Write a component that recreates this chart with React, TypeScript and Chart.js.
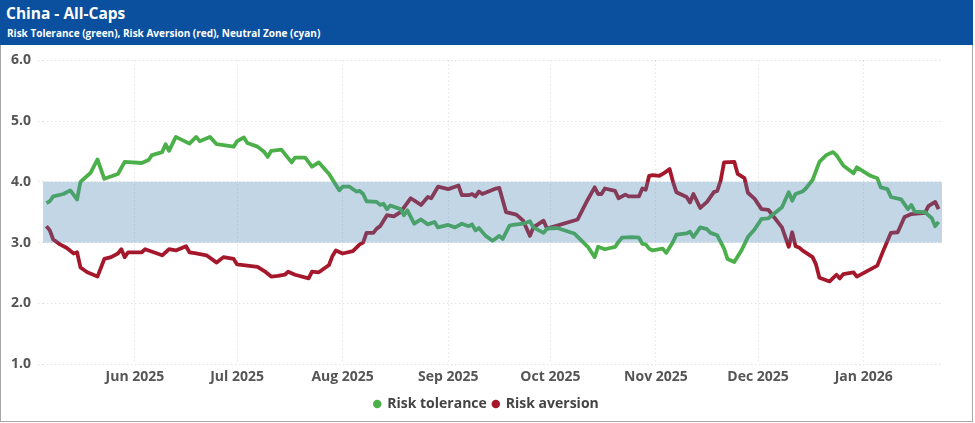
import React, { useEffect, useRef } from "react";
import { Chart, registerables } from "chart.js";

Chart.register(...registerables);

const toleranceDates = [
  "2025-05-06", "2025-05-07", "2025-05-08", "2025-05-11", "2025-05-13", "2025-05-15", "2025-05-16", "2025-05-19",
  "2025-05-21", "2025-05-23", "2025-05-27", "2025-05-29", "2025-06-03", "2025-06-05", "2025-06-06", "2025-06-09",
  "2025-06-10", "2025-06-11", "2025-06-13", "2025-06-17", "2025-06-19", "2025-06-20", "2025-06-23", "2025-06-25",
  "2025-06-30", "2025-07-01", "2025-07-03", "2025-07-04", "2025-07-07", "2025-07-09", "2025-07-10", "2025-07-11",
  "2025-07-14", "2025-07-17", "2025-07-18", "2025-07-21", "2025-07-23", "2025-07-25", "2025-07-28", "2025-07-31",
  "2025-08-01", "2025-08-03", "2025-08-05", "2025-08-06", "2025-08-07", "2025-08-08", "2025-08-11", "2025-08-12",
  "2025-08-13", "2025-08-14", "2025-08-15", "2025-08-18", "2025-08-19", "2025-08-20", "2025-08-22", "2025-08-24",
  "2025-08-26", "2025-08-28", "2025-08-29", "2025-09-01", "2025-09-03", "2025-09-05", "2025-09-07", "2025-09-08",
  "2025-09-09", "2025-09-10", "2025-09-12", "2025-09-14", "2025-09-16", "2025-09-17", "2025-09-19", "2025-09-20",
  "2025-09-23", "2025-09-25", "2025-09-26", "2025-09-29", "2025-09-30", "2025-10-03", "2025-10-08", "2025-10-12",
  "2025-10-14", "2025-10-15", "2025-10-17", "2025-10-20", "2025-10-21", "2025-10-22", "2025-10-25", "2025-10-27",
  "2025-10-28", "2025-10-29", "2025-10-30", "2025-10-31", "2025-11-03", "2025-11-04", "2025-11-06", "2025-11-07",
  "2025-11-10", "2025-11-11", "2025-11-12", "2025-11-14", "2025-11-16", "2025-11-17", "2025-11-19", "2025-11-21",
  "2025-11-22", "2025-11-24", "2025-11-26", "2025-11-28", "2025-11-30", "2025-12-02", "2025-12-04", "2025-12-06",
  "2025-12-08", "2025-12-10", "2025-12-11", "2025-12-12", "2025-12-14", "2025-12-15", "2025-12-17", "2025-12-19",
  "2025-12-21", "2025-12-23", "2025-12-24", "2025-12-26", "2025-12-29", "2025-12-30", "2026-01-03", "2026-01-05",
  "2026-01-06", "2026-01-08", "2026-01-09", "2026-01-12", "2026-01-14", "2026-01-15", "2026-01-16", "2026-01-19",
  "2026-01-21", "2026-01-22", "2026-01-23",
];
const toleranceValues = [
  3.65, 3.68, 3.76, 3.80, 3.86, 3.71, 4.00, 4.15,
  4.37, 4.05, 4.13, 4.33, 4.31, 4.36, 4.44, 4.49,
  4.62, 4.51, 4.74, 4.63, 4.74, 4.67, 4.74, 4.62,
  4.58, 4.67, 4.73, 4.64, 4.58, 4.49, 4.41, 4.51,
  4.53, 4.32, 4.40, 4.40, 4.25, 4.32, 4.13, 3.86,
  3.92, 3.92, 3.84, 3.85, 3.80, 3.68, 3.67, 3.62,
  3.64, 3.55, 3.61, 3.55, 3.45, 3.53, 3.31, 3.38,
  3.30, 3.34, 3.25, 3.29, 3.25, 3.31, 3.27, 3.30,
  3.20, 3.24, 3.11, 3.03, 3.11, 3.06, 3.28, 3.29,
  3.31, 3.35, 3.25, 3.16, 3.23, 3.24, 3.15, 2.93,
  2.76, 2.93, 2.89, 2.93, 3.01, 3.08, 3.09, 3.08,
  2.98, 2.97, 2.90, 2.87, 2.90, 2.83, 3.01, 3.13,
  3.15, 3.18, 3.09, 3.25, 3.22, 3.16, 3.12, 2.90,
  2.73, 2.68, 2.86, 3.09, 3.22, 3.39, 3.40, 3.49,
  3.58, 3.83, 3.69, 3.80, 3.84, 3.89, 4.03, 4.33,
  4.44, 4.49, 4.44, 4.27, 4.14, 4.24, 4.10, 4.06,
  3.91, 3.88, 3.75, 3.71, 3.55, 3.62, 3.51, 3.50,
  3.40, 3.27, 3.34,
];

const aversionDates = [
  "2025-05-06", "2025-05-07", "2025-05-08", "2025-05-10", "2025-05-12", "2025-05-14", "2025-05-15", "2025-05-16",
  "2025-05-18", "2025-05-21", "2025-05-23", "2025-05-25", "2025-05-27", "2025-05-28", "2025-05-29", "2025-05-30",
  "2025-06-03", "2025-06-04", "2025-06-09", "2025-06-11", "2025-06-13", "2025-06-16", "2025-06-17", "2025-06-19",
  "2025-06-22", "2025-06-25", "2025-06-27", "2025-06-30", "2025-07-01", "2025-07-04", "2025-07-07", "2025-07-09",
  "2025-07-11", "2025-07-13", "2025-07-15", "2025-07-16", "2025-07-18", "2025-07-22", "2025-07-23", "2025-07-25",
  "2025-07-28", "2025-07-29", "2025-07-30", "2025-08-01", "2025-08-04", "2025-08-06", "2025-08-07", "2025-08-08",
  "2025-08-10", "2025-08-11", "2025-08-12", "2025-08-14", "2025-08-16", "2025-08-18", "2025-08-21", "2025-08-24",
  "2025-08-26", "2025-08-27", "2025-08-29", "2025-09-01", "2025-09-03", "2025-09-04", "2025-09-05", "2025-09-07",
  "2025-09-08", "2025-09-09", "2025-09-10", "2025-09-11", "2025-09-15", "2025-09-16", "2025-09-18", "2025-09-21",
  "2025-09-23", "2025-09-25", "2025-09-26", "2025-09-29", "2025-09-30", "2025-10-09", "2025-10-12", "2025-10-14",
  "2025-10-15", "2025-10-16", "2025-10-17", "2025-10-20", "2025-10-21", "2025-10-23", "2025-10-24", "2025-10-27",
  "2025-10-28", "2025-10-29", "2025-10-30", "2025-10-31", "2025-11-02", "2025-11-03", "2025-11-05", "2025-11-06",
  "2025-11-07", "2025-11-10", "2025-11-11", "2025-11-12", "2025-11-14", "2025-11-16", "2025-11-18", "2025-11-19",
  "2025-11-20", "2025-11-21", "2025-11-24", "2025-11-25", "2025-11-27", "2025-11-28", "2025-11-30", "2025-12-02",
  "2025-12-04", "2025-12-08", "2025-12-10", "2025-12-11", "2025-12-12", "2025-12-13", "2025-12-14", "2025-12-17",
  "2025-12-18", "2025-12-19", "2025-12-22", "2025-12-24", "2025-12-25", "2025-12-26", "2025-12-29", "2025-12-30",
  "2026-01-05", "2026-01-07", "2026-01-09", "2026-01-11", "2026-01-13", "2026-01-15", "2026-01-19", "2026-01-20",
  "2026-01-22", "2026-01-23",
];
const aversionValues = [
  3.27, 3.20, 3.05, 2.97, 2.91, 2.82, 2.84, 2.59,
  2.51, 2.44, 2.73, 2.76, 2.82, 2.89, 2.76, 2.84,
  2.84, 2.89, 2.79, 2.89, 2.87, 2.94, 2.84, 2.82,
  2.79, 2.67, 2.76, 2.73, 2.64, 2.62, 2.60, 2.53,
  2.44, 2.45, 2.47, 2.52, 2.47, 2.41, 2.52, 2.51,
  2.63, 2.78, 2.87, 2.82, 2.86, 2.97, 3.00, 3.16,
  3.16, 3.23, 3.27, 3.45, 3.43, 3.50, 3.73, 3.62,
  3.75, 3.73, 3.92, 3.88, 3.92, 3.94, 3.78, 3.78,
  3.80, 3.76, 3.84, 3.80, 3.89, 3.90, 3.50, 3.46,
  3.36, 3.11, 3.25, 3.36, 3.23, 3.38, 3.71, 3.91,
  3.80, 3.80, 3.89, 3.85, 3.73, 3.79, 3.76, 3.76,
  3.89, 3.87, 4.10, 4.11, 4.10, 4.13, 4.21, 4.00,
  3.83, 3.75, 3.66, 3.80, 3.57, 3.67, 3.83, 3.85,
  4.02, 4.32, 4.33, 4.13, 4.06, 3.82, 3.72, 3.55,
  3.54, 3.25, 2.93, 3.17, 2.94, 2.92, 2.87, 2.76,
  2.64, 2.42, 2.36, 2.47, 2.41, 2.48, 2.51, 2.44,
  2.62, 2.90, 3.16, 3.17, 3.42, 3.47, 3.49, 3.60,
  3.67, 3.55,
];

const monthTickDates = ["2025-06-01", "2025-07-01", "2025-08-01", "2025-09-01", "2025-10-01", "2025-11-01", "2025-12-01", "2026-01-01"];
const monthTickLabels = ["Jun 2025", "Jul 2025", "Aug 2025", "Sep 2025", "Oct 2025", "Nov 2025", "Dec 2025", "Jan 2026"];
const xRange = ["2025-05-05", "2026-01-24"];
const yTickValues = [1, 2, 3, 4, 5, 6];
const neutralZone = [3.0, 4.0];

const toTime = (d: string) => Date.parse(d + "T00:00:00Z");

const GREEN = "#4cb04a";
const RED = "#a5182c";
const FONT = '"Open Sans", "Noto Sans", sans-serif';

const bandPlugin = {
  id: "neutralBand",
  afterDatasetsDraw(chart: any) {
    const { ctx, chartArea, scales } = chart;
    const y = scales.y;
    const top = y.getPixelForValue(neutralZone[1]);
    const bottom = y.getPixelForValue(neutralZone[0]);
    ctx.save();
    ctx.fillStyle = "rgba(70,130,180,0.33)";
    ctx.fillRect(chartArea.left, top, chartArea.right - chartArea.left, bottom - top);
    ctx.restore();
  },
};

export default function App() {
  const ref = useRef<HTMLCanvasElement>(null);

  useEffect(() => {
    document.body.style.margin = "0";
    const canvas = ref.current;
    if (!canvas) return;
    Chart.defaults.font.family = FONT;

    const chart = new Chart(canvas, {
      type: "line",
      data: {
        datasets: [
          {
            label: "Risk tolerance",
            data: toleranceDates.map((d, i) => ({ x: toTime(d), y: toleranceValues[i] })),
            borderColor: GREEN,
            backgroundColor: GREEN,
            borderWidth: 3.8,
            pointRadius: 0,
            pointStyle: "circle",
            tension: 0,
            borderJoinStyle: "round",
          },
          {
            label: "Risk aversion",
            data: aversionDates.map((d, i) => ({ x: toTime(d), y: aversionValues[i] })),
            borderColor: RED,
            backgroundColor: RED,
            borderWidth: 3.8,
            pointRadius: 0,
            pointStyle: "circle",
            tension: 0,
            borderJoinStyle: "round",
          },
        ],
      },
      options: {
        animation: false,
        responsive: true,
        maintainAspectRatio: false,
        layout: { padding: { top: 10, left: 0, right: 0, bottom: 0 } },
        plugins: {
          tooltip: { enabled: false },
          legend: {
            display: true,
            position: "bottom",
            labels: {
              usePointStyle: true,
              pointStyle: "circle",
              boxWidth: 6,
              boxHeight: 6,
              padding: 6,
              color: "#444",
              font: { family: FONT, size: 14, weight: "bold" },
              generateLabels: (c: any) =>
                Chart.defaults.plugins.legend.labels.generateLabels(c).map((it: any) => ({ ...it, lineWidth: 0 })),
            },
          },
        },
        scales: {
          x: {
            type: "linear",
            min: toTime(xRange[0]),
            max: toTime(xRange[1]),
            afterBuildTicks: (scale: any) => {
              scale.ticks = monthTickDates.map((d) => ({ value: toTime(d) }));
            },
            afterFit: (scale: any) => {
              scale.height = 27;
            },
            ticks: {
              autoSkip: false,
              maxRotation: 0,
              padding: 5,
              color: "#555",
              font: { family: FONT, size: 14, weight: "bold" },
              callback: (value: any) => {
                const idx = monthTickDates.findIndex((d) => toTime(d) === value);
                return idx >= 0 ? monthTickLabels[idx] : "";
              },
            },
            grid: {
              color: "rgba(0,0,0,0.11)",
              drawTicks: false,
            },
            border: { display: false, dash: [1.5, 2.5] },
          },
          y: {
            min: 1,
            max: 6,
            afterBuildTicks: (scale: any) => {
              scale.ticks = yTickValues.map((v) => ({ value: v }));
            },
            afterFit: (scale: any) => {
              scale.width = 42;
            },
            ticks: {
              padding: 7,
              color: "#555",
              font: { family: FONT, size: 14, weight: "bold" },
              callback: (value: any) => Number(value).toFixed(1),
            },
            grid: {
              color: "rgba(0,0,0,0.11)",
              tickLength: 5,
              tickBorderDash: [1.5, 2.5],
            },
            border: { display: false, dash: [1.5, 2.5] },
          },
          y2: {
            position: "right",
            display: true,
            min: 1,
            max: 6,
            ticks: { display: false },
            grid: { display: false },
            border: { display: false },
            afterFit: (scale: any) => {
              scale.width = 30;
            },
          },
        },
      } as any,
      plugins: [bandPlugin],
    });
    return () => chart.destroy();
  }, []);

  return (
    <div style={{ position: "relative", width: 973, height: 422, fontFamily: FONT }}>
      <div
        style={{
          position: "absolute",
          left: 0,
          top: 0,
          width: 973,
          height: 45,
          background: "#0a509e",
          color: "#ffffff",
        }}
      >
        <div style={{ position: "absolute", left: 6, top: 2, fontSize: 15.5, fontWeight: 700, whiteSpace: "nowrap" }}>
          China - All-Caps
        </div>
        <div style={{ position: "absolute", left: 7, top: 26, fontSize: 10, fontWeight: 700, whiteSpace: "nowrap" }}>
          Risk Tolerance (green), Risk Aversion (red), Neutral Zone (cyan)
        </div>
      </div>
      <div
        style={{
          position: "absolute",
          left: 0,
          top: 45,
          width: 973,
          height: 377,
          border: "1px solid #a8a8a8",
          borderTop: "none",
          boxSizing: "border-box",
        }}
      >
        <div style={{ position: "relative", width: 971, height: 376 }}>
          <canvas ref={ref} />
        </div>
      </div>
    </div>
  );
}
